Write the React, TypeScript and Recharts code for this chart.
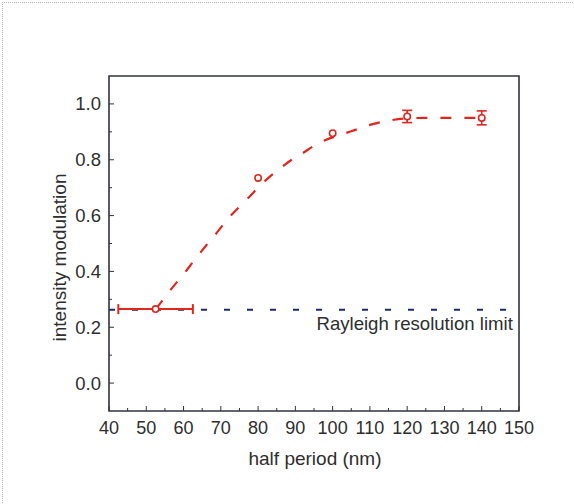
import React from 'react';
import {
  ComposedChart, XAxis, YAxis, Scatter, Line, ErrorBar, ReferenceArea, ReferenceLine,
} from 'recharts';

// ---- data ----
const measuredX = [52.5, 80, 100, 120, 140];
const measuredY = [0.265, 0.735, 0.895, 0.955, 0.95];
const measuredErrX = [10, 0, 0, 0, 0];
const measuredErrY = [0, 0, 0, 0.022, 0.025];

const fitX = [52.5, 54, 56, 58, 60, 63, 66, 69, 72, 75, 78, 80, 83, 86, 89, 92, 95, 98, 101, 105, 110, 115, 120, 125, 130, 135, 140];
const fitY = [0.265, 0.29, 0.325, 0.358, 0.39, 0.442, 0.492, 0.54, 0.59, 0.632, 0.672, 0.7, 0.738, 0.77, 0.8, 0.824, 0.85, 0.87, 0.885, 0.902, 0.925, 0.94, 0.948, 0.95, 0.95, 0.95, 0.95];

const rayleighLevel = 0.263;
const rayleighStart = 40;
const rayleighEnd = 147;
const rayleighText = 'Rayleigh resolution limit';

const xTicks = [40, 45, 50, 55, 60, 65, 70, 75, 80, 85, 90, 95, 100, 105, 110, 115, 120, 125, 130, 135, 140, 145, 150];
const xLabelTicks = [40, 50, 60, 70, 80, 90, 100, 110, 120, 130, 140, 150];
const yTicks = [0, 0.1, 0.2, 0.3, 0.4, 0.5, 0.6, 0.7, 0.8, 0.9, 1.0];
const yLabelTicks = [0, 0.2, 0.4, 0.6, 0.8, 1.0];
const xDomain = [40, 150];
const yDomain = [-0.1, 1.1];

const xTitle = 'half period (nm)';
const yTitle = 'intensity modulation';

// ---- derived tables ----
const measured = measuredX.map((x, i) => ({ x, y: measuredY[i], ex: measuredErrX[i], ey: measuredErrY[i] }));
const fit = fitX.map((x, i) => ({ x, y: fitY[i] }));

const RED = '#e0261f';
const NAVY = '#1e2a6e';
const TEXT = '#2e2e2e';
const FONT = '"Liberation Sans", Arial, sans-serif';

const XTick = (props: any) => {
  const { x, y, payload } = props;
  const v = payload.value;
  const major = xLabelTicks.some((t) => Math.abs(t - v) < 1e-6);
  return (
    <g>
      <line x1={x} y1={y} x2={x} y2={y - (major ? 5 : 3)} stroke="#333" strokeWidth={1} />
      {major && (
        <text x={x} y={y + 23} textAnchor="middle" fontSize={18} fill={TEXT} fontFamily={FONT}>
          {v}
        </text>
      )}
    </g>
  );
};

const YTick = (props: any) => {
  const { x, y, payload } = props;
  const v = payload.value;
  const major = yLabelTicks.some((t) => Math.abs(t - v) < 1e-6);
  return (
    <g>
      <line x1={x} y1={y} x2={x + (major ? 5 : 3)} y2={y} stroke="#333" strokeWidth={1} />
      {major && (
        <text x={x - 8} y={y + 6.5} textAnchor="end" fontSize={18.5} fill={TEXT} fontFamily={FONT}>
          {v.toFixed(1)}
        </text>
      )}
    </g>
  );
};

const Marker = (props: any) => {
  const { cx, cy } = props;
  return <circle cx={cx} cy={cy} r={3.2} fill="#fff" stroke={RED} strokeWidth={1.6} />;
};

const YTitle = (props: any) => {
  const vb = props.viewBox || { x: 0, y: 76, width: 109, height: 335 };
  const cx = vb.x + 59;
  const cy = vb.y + vb.height / 2 + 14;
  return (
    <text
      x={cx}
      y={cy}
      transform={`rotate(-90 ${cx} ${cy})`}
      textAnchor="middle"
      dominantBaseline="central"
      fontSize={19}
      fill={TEXT}
      fontFamily={FONT}
    >
      {yTitle}
    </text>
  );
};

const XTitle = (props: any) => {
  const vb = props.viewBox || { x: 109, y: 411, width: 410, height: 93 };
  return (
    <text x={vb.x + vb.width / 2 + 1} y={vb.y + 54} textAnchor="middle" fontSize={19} fill={TEXT} fontFamily={FONT}>
      {xTitle}
    </text>
  );
};

const RayleighLabel = (props: any) => {
  const vb = props.viewBox || { x: 109, y: 310, width: 400, height: 0 };
  return (
    <text x={vb.x + vb.width + 5} y={vb.y + 20} textAnchor="end" fontSize={18.6} fill={TEXT} fontFamily={FONT}>
      {rayleighText}
    </text>
  );
};

export default function App() {
  return (
    <div style={{ position: 'absolute', left: 0, top: 0, width: 574, height: 504, background: '#fff' }}>
      <div style={{ position: 'absolute', left: 2, top: 2, width: 572, height: 502, borderTop: '1px dotted #b8b8b8', borderLeft: '1px dotted #b8b8b8' }} />
      <ComposedChart width={574} height={504} margin={{ top: 76, right: 55, bottom: 0, left: 0 }}>
        <XAxis
          type="number"
          dataKey="x"
          domain={xDomain}
          ticks={xTicks}
          interval={0}
          allowDataOverflow
          height={93}
          tickSize={0}
          tickMargin={0}
          tickLine={false}
          axisLine={false}
          tick={<XTick />}
          label={<XTitle />}
        />
        <YAxis
          type="number"
          dataKey="y"
          domain={yDomain}
          ticks={yTicks}
          interval={0}
          allowDataOverflow
          width={109}
          tickSize={0}
          tickMargin={0}
          tickLine={false}
          axisLine={false}
          tick={<YTick />}
          label={<YTitle />}
        />
        <ReferenceArea
          x1={xDomain[0]}
          x2={xDomain[1]}
          y1={yDomain[0]}
          y2={yDomain[1]}
          fill="none"
          fillOpacity={0}
          stroke="#30343f"
          strokeWidth={1.6}
          strokeOpacity={1}
          ifOverflow="visible"
        />
        <ReferenceLine
          segment={[{ x: rayleighStart, y: rayleighLevel }, { x: rayleighEnd, y: rayleighLevel }]}
          stroke={NAVY}
          strokeWidth={2}
          strokeDasharray="6 17"
          ifOverflow="visible"
          label={<RayleighLabel />}
        />
        <Line
          data={fit}
          dataKey="y"
          type="monotone"
          stroke={RED}
          strokeWidth={2.2}
          strokeDasharray="11 13"
          dot={false}
          activeDot={false}
          isAnimationActive={false}
        />
        <Scatter data={measured} dataKey="y" shape={<Marker />} isAnimationActive={false}>
          <ErrorBar dataKey="ex" direction="x" stroke={RED} strokeWidth={2} width={5} />
          <ErrorBar dataKey="ey" direction="y" stroke={RED} strokeWidth={1.6} width={5} />
        </Scatter>
      </ComposedChart>
    </div>
  );
}
